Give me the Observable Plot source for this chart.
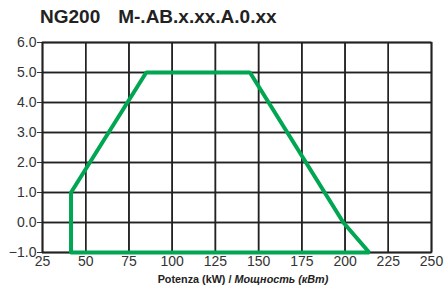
<!DOCTYPE html>
<html><head><meta charset="utf-8">
<script src="https://cdn.jsdelivr.net/npm/d3@7"></script>
<script src="https://cdn.jsdelivr.net/npm/@observablehq/plot@0.6"></script>
<style>
body{margin:0;background:#fff;font-family:"Liberation Sans",Arial,sans-serif;}
#wrap{position:relative;width:447px;height:291px;overflow:hidden;}
#title{height:30px;box-sizing:border-box;padding:7px 0 0 40px;font-weight:bold;font-size:19px;line-height:19px;color:#222;white-space:pre;}
#title span.b{margin-left:18px;}
#xlabel{position:absolute;left:0;width:486px;text-align:center;top:273px;font-weight:bold;font-size:10.8px;color:#222;}
</style></head>
<body><div id="wrap"><div id="title"></div><div id="chart"></div><div id="xlabel"></div></div>
<script>
const titleModel = "NG200";
const titleCode = "M-.AB.x.xx.A.0.xx";
const xLabelMain = "Potenza (kW) / ";
const xLabelItalic = "Мощность (кВт)";
const xTicks = [25, 50, 75, 100, 125, 150, 175, 200, 225, 250];
const yTicks = [-1, 0, 1, 2, 3, 4, 5, 6];
const polyX = [41.5, 41.5, 85, 145, 199, 214, 41.5];
const polyY = [-1, 1, 5, 5, 0, -1, -1];

const t = document.getElementById("title");
const s1 = document.createElement("span"); s1.textContent = titleModel;
const s2 = document.createElement("span"); s2.className = "b"; s2.textContent = titleCode;
t.append(s1, s2);
const xl = document.getElementById("xlabel");
xl.append(xLabelMain);
const it = document.createElement("i"); it.textContent = xLabelItalic; xl.append(it);

const pts = polyX.map((x, i) => ({x, y: polyY[i]}));

const chart = Plot.plot({
  width: 447, height: 261,
  marginLeft: 42, marginRight: 16, marginTop: 12, marginBottom: 39,
  style: {fontFamily: "Liberation Sans, Arial, sans-serif", fontSize: "14px", color: "#333", overflow: "visible"},
  x: {domain: [25, 250], ticks: xTicks, label: null, tickSize: 0, tickPadding: 4, grid: true},
  y: {domain: [-1, 6], ticks: yTicks, label: null, tickSize: 5, tickPadding: 1, grid: true},
  marks: [
    Plot.gridX(xTicks, {stroke: "#222", strokeOpacity: 1, strokeWidth: 1.5}),
    Plot.gridY(yTicks, {stroke: "#222", strokeOpacity: 1, strokeWidth: 1.5}),
    Plot.frame({stroke: "#222", strokeWidth: 1.5}),
    Plot.line(pts, {x: "x", y: "y", stroke: "#00a651", strokeWidth: 4, strokeLinejoin: "miter"})
  ]
});
chart.querySelectorAll("text").forEach(el => { el.style.fontSize = "14px"; });
chart.querySelectorAll("g[aria-label$='grid'] line").forEach(el => { el.style.stroke = "#222"; el.style.strokeOpacity = "1"; el.style.strokeWidth = "1.5px"; });
document.getElementById("chart").append(chart);
</script></body></html>
